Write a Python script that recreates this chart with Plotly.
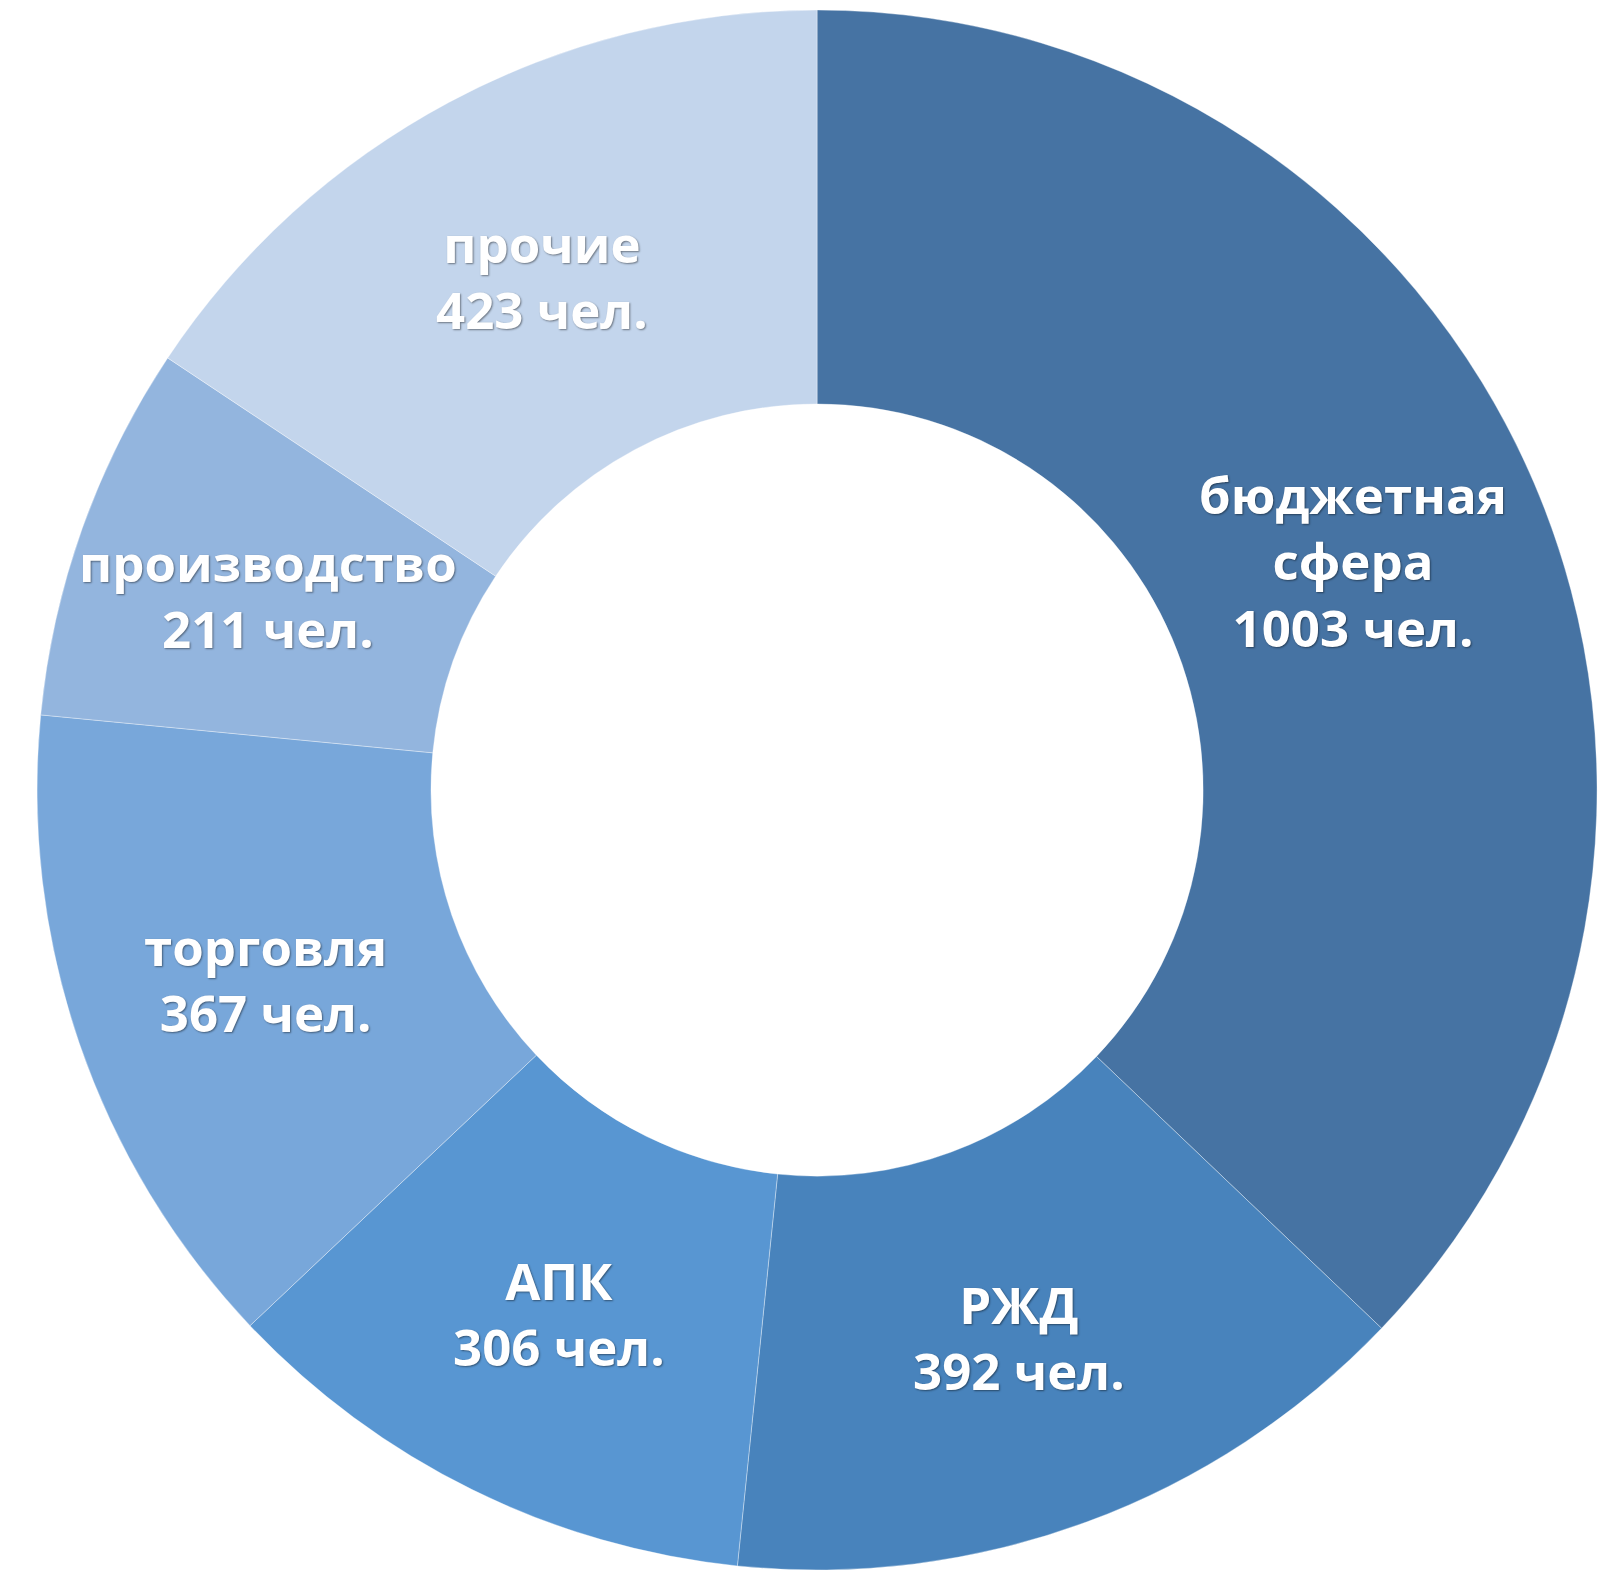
import math
import plotly.graph_objects as go

categories = ["бюджетная сфера", "РЖД", "АПК", "торговля", "производство", "прочие"]
values = [1003, 392, 306, 367, 211, 423]
colors = ["#4673a3", "#4883bc", "#5896d2", "#78a7da", "#93b5de", "#c3d5ec"]
unit = "чел."

W, H = 1622, 1574
HOLE = 0.495
DOM_X = [0.0179, 0.9797]
DOM_Y = [0.0076, 0.9987]

fig = go.Figure(go.Pie(
    labels=categories,
    values=values,
    textinfo="none",
    hole=HOLE,
    sort=False,
    direction="clockwise",
    rotation=0,
    marker=dict(colors=colors, line=dict(color="rgba(255,255,255,0.35)", width=1)),
    domain=dict(x=DOM_X, y=DOM_Y),
    showlegend=False,
    hoverinfo="label+value",
))

# Label placement derived from the data: middle of the ring at each slice's mid-angle
cx = (DOM_X[0] + DOM_X[1]) / 2
cy = (DOM_Y[0] + DOM_Y[1]) / 2
r_px = min((DOM_X[1] - DOM_X[0]) * W, (DOM_Y[1] - DOM_Y[0]) * H) / 2
r_lab = r_px * (1 + HOLE) / 2
total = sum(values)
cum = 0
for c, v in zip(categories, values):
    mid = (cum + v / 2) / total * 2 * math.pi
    cum += v
    fig.add_annotation(
        x=cx + r_lab * math.sin(mid) / W,
        y=cy + r_lab * math.cos(mid) / H,
        xref="paper", yref="paper",
        xanchor="center", yanchor="middle",
        text=f"{c.replace(' ', '<br>')}<br>{v} {unit}",
        showarrow=False,
        align="center",
        font=dict(family="Open Sans", size=51, color="white", weight="bold",
                  shadow="1px 1px 2px rgba(0,0,0,0.45)"),
    )

fig.update_layout(
    width=W,
    height=H,
    margin=dict(l=0, r=0, t=0, b=0),
    paper_bgcolor="white",
    plot_bgcolor="white",
)

fig.write_html("out.html")
